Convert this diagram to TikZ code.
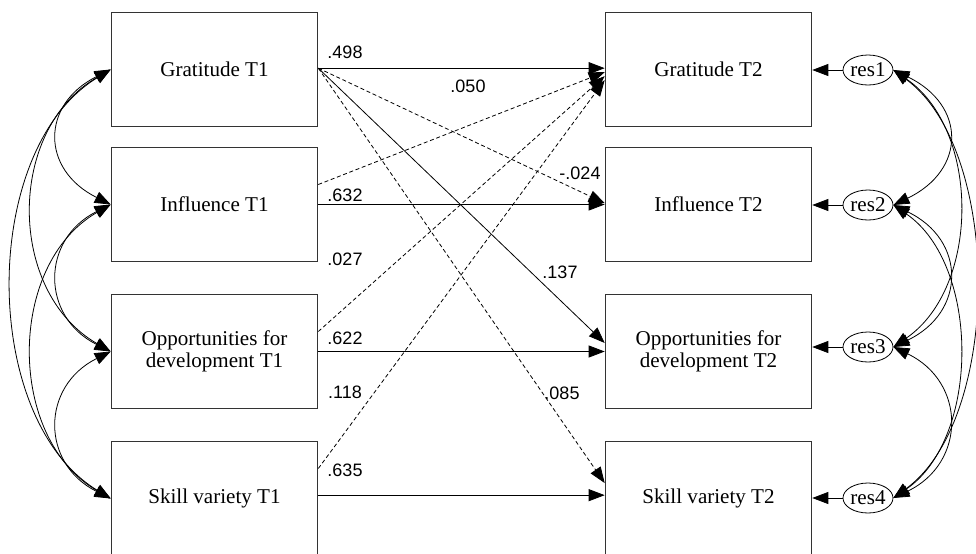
\documentclass[tikz,border=0pt]{standalone}
\usepackage{fontspec}
\setmainfont{Liberation Serif}
\newfontfamily\coeffont{Liberation Sans}
\usetikzlibrary{shapes,arrows.meta,positioning}

\begin{document}
\begin{tikzpicture}[x=0.75pt, y=-0.75pt]
			\tikzstyle{Box}	= [rectangle, draw=black!80, line width=0.7pt, minimum width=155pt, minimum height=86pt, align=center, font=\fontsize{15.8}{16.3}\selectfont]
			\tikzstyle{Res}	= [ellipse, draw, line width=0.6pt, minimum width=37.5pt, minimum height=22.5pt, inner sep=0pt, font=\fontsize{15.8}{16.3}\selectfont]
			\tikzstyle{Coef}	= [inner sep=0pt, font=\coeffont\fontsize{13.5}{16}\selectfont]
			\tikzstyle{Path}	= [line width=0.6pt, -{Triangle[length=12pt,width=9pt]}]
			\tikzstyle{NS}		= [dash pattern=on 3pt off 2pt]
			\tikzstyle{Cov}		= [line width=0.6pt, {Triangle[length=12pt,width=9pt]}-{Triangle[length=12pt,width=9pt]}]

			\useasboundingbox (0,0) rectangle (976,554);
			\clip (0,0) rectangle (976,554);

			% time 1
			\node (g1) at (214.5, 69.5) [Box] {Gratitude T1};
			\node (i1) at (214.5, 204.5) [Box] {Influence T1};
			\node (o1) at (214.5, 351.5) [Box] {Opportunities for\\development T1};
			\node (s1) at (214.5, 498.5) [Box] {Skill variety T1};

			% time 2
			\node (g2) at (708.5, 69.5) [Box] {Gratitude T2};
			\node (i2) at (708.5, 204.5) [Box] {Influence T2};
			\node (o2) at (708.5, 351.5) [Box] {Opportunities for\\development T2};
			\node (s2) at (708.5, 498.5) [Box] {Skill variety T2};

			% residuals
			\node (r1) at (868, 70) [Res] {res1};
			\node (r2) at (868, 205) [Res] {res2};
			\node (r3) at (868, 347) [Res] {res3};
			\node (r4) at (868, 498) [Res] {res4};

			\draw [Path] (r1) to (r1 -| g2.east);
			\draw [Path] (r2) to (r2 -| i2.east);
			\draw [Path] (r3) to (r3 -| o2.east);
			\draw [Path] (r4) to (r4 -| s2.east);

			% stability paths
			\draw [Path] ([yshift=1pt]g1.east) to ([yshift=1pt]g2.west);
			\draw [Path] (i1.east) to (i2.west);
			\draw [Path] (o1.east) to (o2.west);
			\draw [Path] ([yshift=2.5pt]s1.east) to ([yshift=2.5pt]s2.west);

			% cross-lagged paths
			\draw [Path, NS] ([yshift=1pt]g1.east) to ([yshift=1pt]i2.west);
			\draw [Path] ([yshift=1pt]g1.east) to ([yshift=6.4pt]o2.west);
			\draw [Path, NS] ([yshift=1pt]g1.east) to ([yshift=11.6pt]s2.west);
			\draw [Path, NS] ([yshift=15pt]i1.east) to ([yshift=-2pt]g2.west);
			\draw [Path, NS] ([yshift=15pt]o1.east) to ([yshift=-5pt]g2.west);
			\draw [Path, NS] ([yshift=22.5pt]s1.east) to ([yshift=-8pt]g2.west);

			% coefficients
			\node (c498) at (345, 52) [Coef] {.498};
			\node (c050) at (468, 86) [Coef] {.050};
			\node (c024) at (580, 173) [Coef] {-.024};
			\node (c632) at (345, 195) [Coef] {.632};
			\node (c027) at (345, 259) [Coef] {.027};
			\node (c137) at (560, 272) [Coef] {.137};
			\node (c622) at (345, 338) [Coef] {.622};
			\node (c118) at (345, 392) [Coef] {.118};
			\node (c085) at (562, 393) [Coef] {.085};
			\node (c635) at (345, 470) [Coef] {.635};

			% covariances at T1
			\draw [Cov] (g1.west) .. controls +(-70,35) and +(-70,-35) .. (i1.west);
			\draw [Cov] (i1.west) .. controls +(-70,35) and +(-70,-35) .. (o1.west);
			\draw [Cov] (o1.west) .. controls +(-70,35) and +(-70,-35) .. (s1.west);
			\draw [Cov] (g1.west) .. controls +(-104,60) and +(-104,-60) .. (o1.west);
			\draw [Cov] (i1.west) .. controls +(-104,60) and +(-104,-60) .. (s1.west);
			\draw [Cov] (g1.west) .. controls +(-131,80) and +(-131,-80) .. (s1.west);

			% covariances of residuals
			\draw [Cov] (r1.east) .. controls +(73,35) and +(73,-35) .. (r2.east);
			\draw [Cov] (r2.east) .. controls +(73,35) and +(73,-35) .. (r3.east);
			\draw [Cov] (r3.east) .. controls +(73,35) and +(73,-35) .. (r4.east);
			\draw [Cov] (r1.east) .. controls +(87,60) and +(87,-60) .. (r3.east);
			\draw [Cov] (r2.east) .. controls +(87,60) and +(87,-60) .. (r4.east);
			\draw [Cov] (r1.east) .. controls +(109,80) and +(109,-80) .. (r4.east);
		\end{tikzpicture}
\end{document}
